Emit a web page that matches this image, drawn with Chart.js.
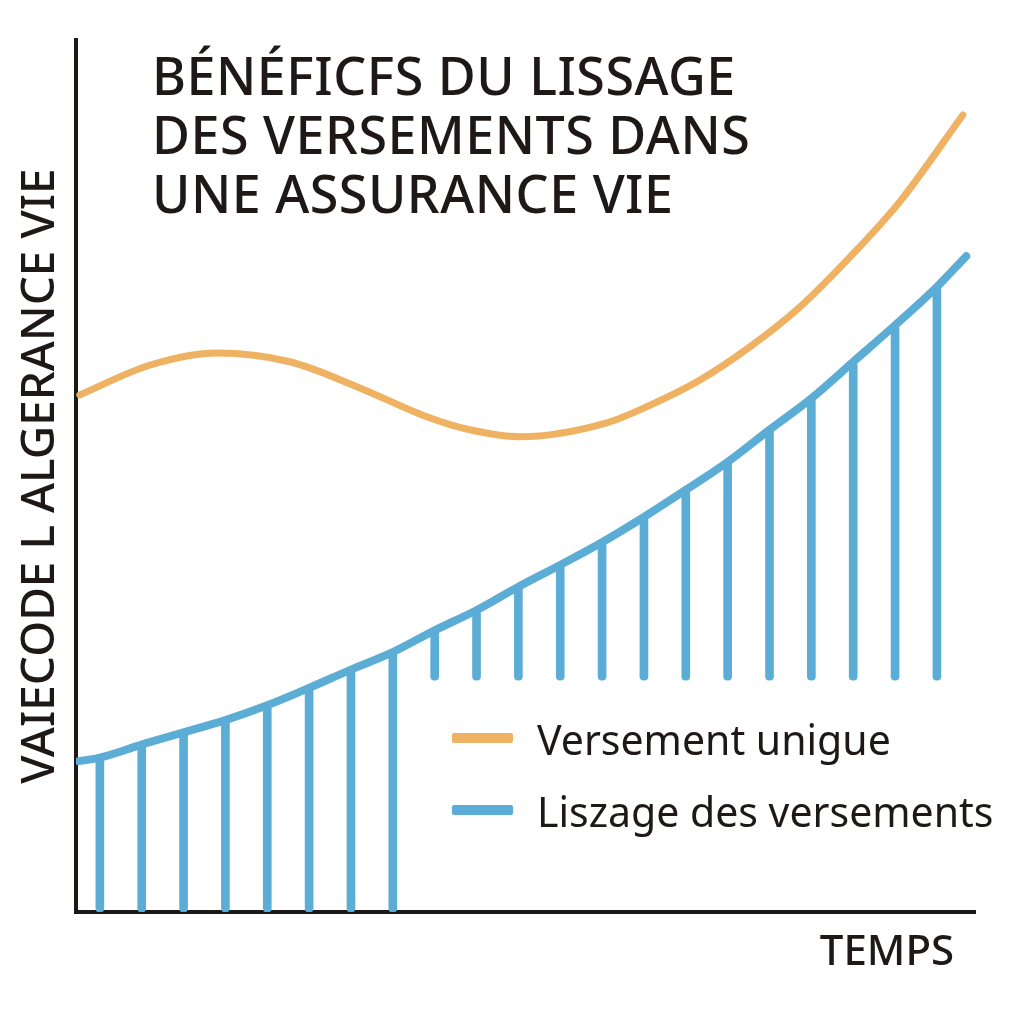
<!DOCTYPE html>
<html lang="fr">
<head>
<meta charset="utf-8">
<title>Bénéfices du lissage des versements</title>
<script src="https://cdn.jsdelivr.net/npm/chart.js@4.4.1/dist/chart.umd.min.js"></script>
<style>
  html, body { margin: 0; padding: 0; background: #fff; }
  #wrap { width: 1024px; height: 1024px; }
</style>
</head>
<body>
<div id="wrap"><canvas id="lissageChart" width="1024" height="1024"></canvas></div>
<script>
// Texts
const titleLines = ["BÉNÉFICFS DU LISSAGE", "DES VERSEMENTS DANS", "UNE ASSURANCE VIE"];
const yAxisTitle = "VAIECODE L ALGERANCE VIE";
const xAxisTitle = "TEMPS";
const seriesLabels = ["Versement unigue", "Liszage des versements"];

// Versement unique (orange curve) - x = period, y = % of axis height
const uniqueX = [-0.48, 1.19, 2.8, 4.54, 6.21, 7.81, 8.84, 10.04, 12.11, 13.14, 14.34, 15.53, 16.73, 17.92, 19.12, 20.62];
const uniqueY = [59.3, 62.7, 64.1, 63.1, 60.1, 56.8, 55.3, 54.5, 56.1, 58.1, 61.0, 64.8, 69.4, 75.1, 81.5, 91.4];

// Lissage des versements (blue curve) and the payments under it
const periods = [0, 1, 2, 3, 4, 5, 6, 7, 8, 9, 10, 11, 12, 13, 14, 15, 16, 17, 18, 19, 20];
const lissageY = [17.7, 19.2, 20.6, 22.0, 23.7, 25.7, 27.8, 29.8, 32.3, 34.6, 37.3, 39.8, 42.4, 45.3, 48.4, 51.6, 55.3, 58.9, 63.1, 67.3, 71.7];
const barBase = [0, 0, 0, 0, 0, 0, 0, 0, 26.6, 26.6, 26.6, 26.6, 26.6, 26.6, 26.6, 26.6, 26.6, 26.6, 26.6, 26.6, 26.6];
const lissageStart = { x: -0.5, y: 17.3 };
const lissageEnd = { x: 20.7, y: 75.2 };

const orange = '#EFB263';
const blue = '#5CADD5';
const ink = '#1e1916';
const fontName = '"Noto Sans", "Open Sans", sans-serif';

const uniquePoints = uniqueX.map((x, i) => ({ x: x, y: uniqueY[i] }));
const lissagePoints = [lissageStart].concat(periods.map((p, i) => ({ x: p, y: lissageY[i] })), [lissageEnd]);
const barPoints = periods.map((p, i) => ({ x: p, y: [barBase[i], lissageY[i]] }));

// Title, legend and x-axis label drawn inside the plot
const annotations = {
    id: 'annotations',
    afterDraw(chart) {
        const ctx = chart.ctx;
        ctx.save();
        ctx.fillStyle = ink;
        ctx.textBaseline = 'alphabetic';
        ctx.textAlign = 'left';

        ctx.font = '500 52px ' + fontName;
        ctx.letterSpacing = '0.5px';
        titleLines.forEach((line, i) => ctx.fillText(line, 152, 95 + i * 59));
        ctx.letterSpacing = '0px';

        // legend
        const legendColors = [chart.data.datasets[0].borderColor, chart.data.datasets[1].borderColor];
        ctx.font = '41px ' + fontName;
        seriesLabels.forEach((label, i) => {
            const y = 738 + i * 72;
            ctx.fillStyle = legendColors[i];
            ctx.beginPath();
            ctx.roundRect(452, y - 5, 61, 10, 2);
            ctx.fill();
            ctx.fillStyle = ink;
            ctx.fillText(label, 537, y + 17);
        });

        ctx.font = '500 42px ' + fontName;
        ctx.textAlign = 'center';
        ctx.fillText(xAxisTitle, 887, 965);
        ctx.restore();
    }
};

new Chart(document.getElementById('lissageChart'), {
    data: {
        datasets: [
            {
                type: 'line',
                label: seriesLabels[0],
                data: uniquePoints,
                borderColor: orange,
                borderWidth: 7,
                borderCapStyle: 'round',
                pointRadius: 0,
                cubicInterpolationMode: 'monotone',
                fill: false,
                order: 0
            },
            {
                type: 'line',
                label: seriesLabels[1],
                data: lissagePoints,
                borderColor: blue,
                borderWidth: 8,
                borderCapStyle: 'round',
                pointRadius: 0,
                cubicInterpolationMode: 'monotone',
                fill: false,
                order: 0
            },
            {
                type: 'bar',
                label: 'Versements',
                data: barPoints,
                backgroundColor: blue,
                barThickness: 8,
                borderRadius: 4,
                borderSkipped: false,
                order: 1
            }
        ]
    },
    options: {
        responsive: false,
        animation: false,
        devicePixelRatio: 1,
        layout: { padding: { top: 40, right: 49, bottom: 112, left: 18 } },
        plugins: {
            legend: { display: false },
            tooltip: { enabled: false }
        },
        scales: {
            x: {
                type: 'linear',
                min: -0.57,
                max: 20.91,
                offset: false,
                grid: { display: false, drawTicks: false },
                ticks: { display: false },
                border: { display: true, color: ink, width: 4 }
            },
            y: {
                type: 'linear',
                min: 0,
                max: 100,
                grid: { display: false, drawTicks: false },
                ticks: { display: false },
                border: { display: true, color: ink, width: 4 },
                title: {
                    display: true,
                    text: yAxisTitle,
                    color: ink,
                    font: { family: fontName, size: 46, weight: '500', lineHeight: 1 },
                    padding: { top: 0, bottom: 12 }
                }
            }
        }
    },
    plugins: [annotations]
});
</script>
</body>
</html>
